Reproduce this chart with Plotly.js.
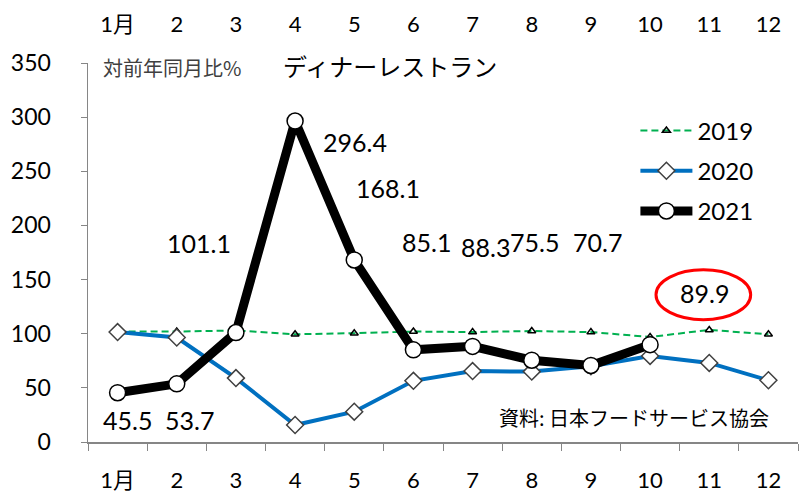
<!DOCTYPE html>
<html><head><meta charset="utf-8">
<script src="https://cdn.plot.ly/plotly-3.0.1.min.js"></script>
<style>html,body{margin:0;padding:0;background:#fff}#chart{width:800px;height:495px}</style>
</head><body><div id="chart"></div>
<script>
const months = ['1月','2','3','4','5','6','7','8','9','10','11','12'];
const y2019 = [102, 102, 103, 99.5, 100.5, 102, 101.5, 102.5, 101.5, 97, 103.5, 99.5];
const y2020 = [101.5, 96.5, 59, 15.7, 28, 56.5, 65.5, 65, 70, 79.5, 73, 57];
const y2021 = [45.5, 53.7, 101.1, 296.4, 168.1, 85.1, 88.3, 75.5, 70.7, 89.9, null, null];
const seriesNames = ['2019', '2020', '2021'];
const unitLabel = '対前年同月比%';
const chartTitle = 'ディナーレストラン';
const sourceLabel = '資料: 日本フードサービス協会';

const LAT = "Lato, 'Noto Sans CJK JP', sans-serif";
const CJK = "'Noto Sans CJK JP', sans-serif";

// label offsets (px) for 2021 value labels
const labelShift = [[10,-27],[13,-36],[-37,90],[60,-21],[34,72],[13,108],[13,99],[3,118],[7,123],[54,52]];

const traces = [
  {x: months, y: y2019, xaxis: 'x2', yaxis: 'y', mode: 'lines', opacity: 0, showlegend: false, hoverinfo: 'skip'},
  {x: months, y: y2019, name: seriesNames[0], mode: 'lines+markers', legendgroup: 'a',
   line: {color: '#00B050', width: 2, dash: '7px,4px'},
   marker: {symbol: 'triangle-up-open', size: 7, color: '#000', line: {color: '#000', width: 1.5}}},
  {x: months, y: y2020, name: seriesNames[1], mode: 'lines+markers', legendgroup: 'b',
   line: {color: '#0070C0', width: 4},
   marker: {symbol: 'diamond', size: 13, color: '#fff', line: {color: '#404040', width: 1.5}}},
  {x: months, y: y2021, name: seriesNames[2], mode: 'lines+markers', legendgroup: 'c',
   line: {color: '#000', width: 9},
   marker: {symbol: 'circle', size: 16, color: '#fff', line: {color: '#000', width: 1.5}}}
];

const annotations = [];
y2021.forEach((v, i) => {
  if (v === null) return;
  annotations.push({x: i, y: v, xref: 'x', yref: 'y', text: v.toFixed(1), showarrow: false,
    xshift: labelShift[i][0], yshift: labelShift[i][1], font: {family: LAT, size: 25, color: '#000'}});
});
annotations.push({xref: 'paper', yref: 'paper', x: 0.018, y: 1.0, xanchor: 'left', yanchor: 'middle', yshift: -4,
  text: unitLabel, showarrow: false, font: {family: CJK, size: 20, color: '#404040'}});
annotations.push({xref: 'paper', yref: 'paper', x: 0.272, y: 1.0, xanchor: 'left', yanchor: 'middle', yshift: -2,
  text: chartTitle, showarrow: false, font: {family: CJK, size: 24, color: '#000'}});
annotations.push({xref: 'paper', yref: 'paper', x: 0.576, y: 0.065, xanchor: 'left', yanchor: 'middle',
  text: sourceLabel, showarrow: false, font: {family: CJK, size: 20, color: '#000'}});

const layout = {
  width: 800, height: 495,
  margin: {l: 88, r: 2, t: 63, b: 53},
  paper_bgcolor: '#fff', plot_bgcolor: '#fff',
  showlegend: true,
  legend: {x: 0.771, y: 0.88, xanchor: 'left', yanchor: 'top', bgcolor: 'rgba(0,0,0,0)',
    font: {family: LAT, size: 24, color: '#000'}, tracegroupgap: 6, itemwidth: 52},
  xaxis: {type: 'category', categoryarray: months, range: [-0.5, 11.5], showline: true, linecolor: '#868686', linewidth: 1.5,
    ticks: 'outside', tickson: 'boundaries', ticklen: 7, tickcolor: '#868686', showgrid: false, zeroline: false,
    tickfont: {family: LAT, size: 22, color: '#000'}, ticklabelstandoff: 18, fixedrange: true},
  xaxis2: {type: 'category', categoryarray: months, overlaying: 'x', side: 'top', range: [-0.5, 11.5],
    showline: false, ticks: '', showgrid: false, zeroline: false, ticklabelstandoff: 26,
    tickfont: {family: LAT, size: 22, color: '#000'}},
  yaxis: {range: [0, 350], dtick: 50, showline: true, linecolor: '#868686', linewidth: 1.5, ticks: 'outside', ticklen: 6,
    tickcolor: '#868686', showgrid: false, zeroline: false, tickfont: {family: LAT, size: 23, color: '#000'},
    ticklabelstandoff: 25},
  annotations: annotations,
  shapes: [{type: 'circle', xref: 'x', yref: 'y', x0: 9.1, x1: 10.7, y0: 113, y1: 159,
    line: {color: '#FF0000', width: 3}}]
};
Plotly.newPlot('chart', traces, layout, {displayModeBar: false, staticPlot: true});
</script></body></html>
